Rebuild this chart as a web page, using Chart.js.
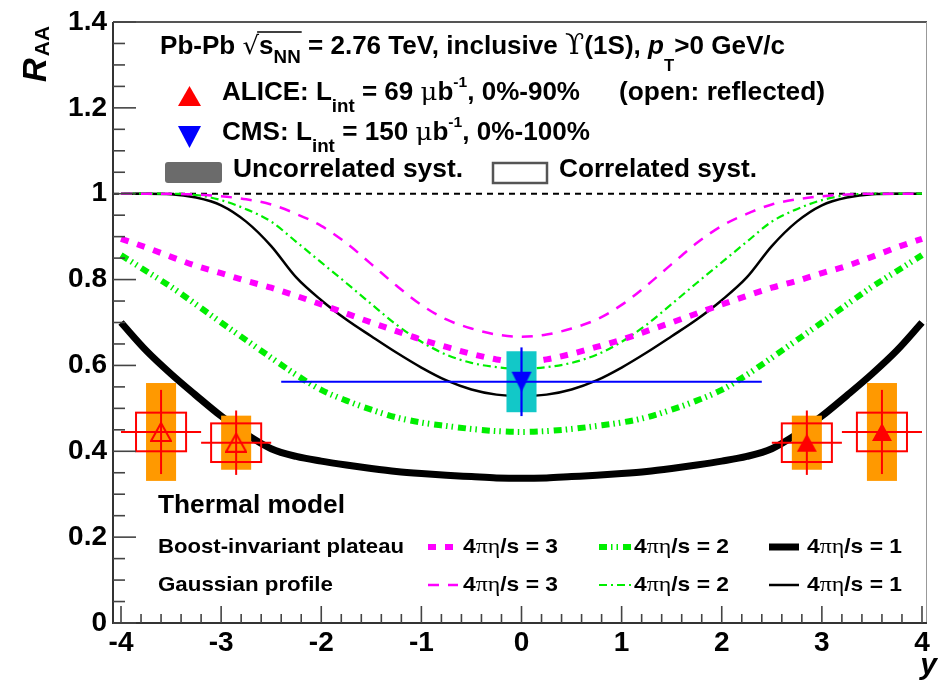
<!DOCTYPE html>
<html>
<head>
<meta charset="utf-8">
<title>Upsilon(1S) RAA vs rapidity</title>
<script src="https://cdn.jsdelivr.net/npm/chart.js"></script>
<style>
  html, body { margin: 0; padding: 0; background: #fff; }
  canvas { display: block; }
</style>
</head>
<body>
<canvas id="raaChart" width="938" height="683"></canvas>
<script>
// rapidity grid of the thermal model curves
var rapidity = [-4, -3.75, -3.5, -3.25, -3, -2.75, -2.5, -2.25, -2, -1.75, -1.5, -1.25, -1, -0.75, -0.5, -0.25, 0,
                0.25, 0.5, 0.75, 1, 1.25, 1.5, 1.75, 2, 2.25, 2.5, 2.75, 3, 3.25, 3.5, 3.75, 4];

// boost-invariant plateau
var plateauEta3 = [0.895, 0.875, 0.853, 0.832, 0.815, 0.797, 0.781, 0.762, 0.742, 0.721, 0.700, 0.680, 0.660, 0.643, 0.627, 0.614, 0.607,
                   0.614, 0.627, 0.643, 0.660, 0.680, 0.700, 0.721, 0.742, 0.762, 0.781, 0.797, 0.815, 0.832, 0.853, 0.875, 0.895];
var plateauEta2 = [0.857, 0.820, 0.783, 0.742, 0.700, 0.659, 0.618, 0.578, 0.543, 0.518, 0.497, 0.479, 0.467, 0.459, 0.452, 0.447, 0.445,
                   0.447, 0.452, 0.459, 0.467, 0.479, 0.497, 0.518, 0.543, 0.578, 0.618, 0.659, 0.700, 0.742, 0.783, 0.820, 0.857];
var plateauEta1 = [0.700, 0.635, 0.580, 0.530, 0.482, 0.440, 0.406, 0.388, 0.377, 0.368, 0.360, 0.353, 0.348, 0.344, 0.341, 0.338, 0.337,
                   0.338, 0.341, 0.344, 0.348, 0.353, 0.360, 0.368, 0.377, 0.388, 0.406, 0.440, 0.482, 0.530, 0.580, 0.635, 0.700];

// gaussian profile
var gaussEta3 = [1.000, 1.000, 1.000, 0.998, 0.994, 0.987, 0.975, 0.953, 0.925, 0.885, 0.836, 0.786, 0.741, 0.707, 0.686, 0.672, 0.667,
                 0.672, 0.686, 0.707, 0.741, 0.786, 0.836, 0.885, 0.925, 0.953, 0.975, 0.987, 0.994, 0.998, 1.000, 1.000, 1.000];
var gaussEta2 = [1.000, 1.000, 1.000, 0.997, 0.985, 0.964, 0.935, 0.888, 0.840, 0.792, 0.743, 0.695, 0.655, 0.625, 0.606, 0.596, 0.592,
                 0.596, 0.606, 0.625, 0.655, 0.695, 0.743, 0.792, 0.840, 0.888, 0.935, 0.964, 0.985, 0.997, 1.000, 1.000, 1.000];
var gaussEta1 = [1.000, 1.000, 0.999, 0.991, 0.973, 0.935, 0.878, 0.805, 0.752, 0.707, 0.668, 0.630, 0.595, 0.565, 0.544, 0.532, 0.529,
                 0.532, 0.544, 0.565, 0.595, 0.630, 0.668, 0.707, 0.752, 0.805, 0.878, 0.935, 0.973, 0.991, 0.999, 1.000, 1.000];

// ALICE (measured at forward y, drawn open when reflected)
var aliceY = [2.85, 3.6];
var aliceRaa = [0.42, 0.445];
var aliceBinLo = [2.5, 3.2];
var aliceBinHi = [3.2, 4.0];
var aliceStat = [0.075, 0.098];
var aliceUncorr = [0.063, 0.114];
var aliceCorr = [0.045, 0.045];

// CMS
var cmsY = [0];
var cmsRaa = [0.562];
var cmsBinHalf = [2.4];
var cmsStat = [0.08];
var cmsUncorr = [0.071];

// unity reference line
var unityY = [-4.08, 4.05];
var unityRaa = [1, 1];

var xTicks = [-4, -3, -2, -1, 0, 1, 2, 3, 4];
var yTicks = [0, 0.2, 0.4, 0.6, 0.8, 1, 1.2, 1.4];

var FONT = '"Liberation Sans", Arial, Helvetica, sans-serif';
var BOX_UNCORR = 0.15, BOX_CORR = 0.25;

function pts(xs, ys) {
    return xs.map(function (x, i) { return {x: x, y: ys[i]}; });
}

function triangle(w, h, fill, stroke, down) {
    var c = document.createElement('canvas');
    c.width = w + 2; c.height = h + 2;
    var g = c.getContext('2d');
    g.beginPath();
    if (down) {
        g.moveTo(1, 1); g.lineTo(w + 1, 1); g.lineTo(w / 2 + 1, h + 1);
    } else {
        g.moveTo(1, h + 1); g.lineTo(w + 1, h + 1); g.lineTo(w / 2 + 1, 1);
    }
    g.closePath();
    if (fill) { g.fillStyle = fill; g.fill(); }
    if (stroke) { g.strokeStyle = stroke; g.lineWidth = 2; g.lineJoin = 'miter'; g.stroke(); }
    return c;
}

var redUp = triangle(20, 18, '#ff0000');
var redOpen = triangle(20, 18, null, '#ff0000');
var blueDown = triangle(20, 20, '#0000ff', null, true);
var redUpLegend = triangle(23, 20, '#ff0000');
var blueDownLegend = triangle(23, 22, '#0000ff', null, true);

var curveStyles = [
    {label: 'plateau 3', data: plateauEta3, color: '#ff00ff', width: 6, dash: [8, 9]},
    {label: 'plateau 2', data: plateauEta2, color: '#00ee00', width: 6, dash: [8, 4, 1.5, 4, 1.5, 5]},
    {label: 'plateau 1', data: plateauEta1, color: '#000000', width: 7, dash: []},
    {label: 'gauss 3', data: gaussEta3, color: '#ff00ff', width: 2.5, dash: [11, 9]},
    {label: 'gauss 2', data: gaussEta2, color: '#00ee00', width: 2.2, dash: [8, 4, 2, 4]},
    {label: 'gauss 1', data: gaussEta1, color: '#000000', width: 2.5, dash: []}
];

var datasets = [];
datasets.push({label: 'CMS', data: pts(cmsY, cmsRaa), pointStyle: blueDown, pointRadius: 10, order: 1, isMarker: true});
datasets.push({label: 'ALICE', data: pts(aliceY, aliceRaa), pointStyle: redUp, pointRadius: 10, order: 1, isMarker: true});
datasets.push({label: 'ALICE reflected', data: pts(aliceY.map(function (v) { return -v; }), aliceRaa),
               pointStyle: redOpen, pointRadius: 10, order: 1, isMarker: true});
curveStyles.forEach(function (s) {
    datasets.push({
        label: s.label, data: pts(rapidity, s.data), showLine: true, pointRadius: 0,
        borderColor: s.color, borderWidth: s.width, borderDash: s.dash,
        cubicInterpolationMode: 'monotone', order: 5
    });
});
datasets.push({label: 'unity', data: pts(unityY, unityRaa), showLine: true, pointRadius: 0,
               borderColor: '#000', borderWidth: 2, borderDash: [6, 5], order: 6});

function drawErrors(chart) {
    var ctx = chart.ctx, X = chart.scales.x, Y = chart.scales.y;
    function px(v) { return X.getPixelForValue(v); }
    function py(v) { return Y.getPixelForValue(v); }
    function seg(x1, y1, x2, y2) { ctx.beginPath(); ctx.moveTo(x1, y1); ctx.lineTo(x2, y2); ctx.stroke(); }
    ctx.save();
    ctx.setLineDash([]);
    [1, -1].forEach(function (sign) {
        aliceY.forEach(function (y0, i) {
            var xc = sign * y0, r = aliceRaa[i];
            ctx.fillStyle = '#ff9900';
            ctx.fillRect(px(xc - BOX_UNCORR), py(r + aliceUncorr[i]),
                         px(xc + BOX_UNCORR) - px(xc - BOX_UNCORR), py(r - aliceUncorr[i]) - py(r + aliceUncorr[i]));
            ctx.strokeStyle = '#ff0000';
            ctx.lineWidth = 2;
            ctx.strokeRect(px(xc - BOX_CORR), py(r + aliceCorr[i]),
                           px(xc + BOX_CORR) - px(xc - BOX_CORR), py(r - aliceCorr[i]) - py(r + aliceCorr[i]));
            var lo = sign > 0 ? aliceBinLo[i] : -aliceBinHi[i];
            var hi = sign > 0 ? aliceBinHi[i] : -aliceBinLo[i];
            seg(px(lo), py(r), px(hi), py(r));
            seg(px(xc), py(r - aliceStat[i]), px(xc), py(r + aliceStat[i]));
        });
    });
    cmsY.forEach(function (xc, i) {
        var r = cmsRaa[i];
        ctx.fillStyle = '#12c8c8';
        ctx.fillRect(px(xc - BOX_UNCORR), py(r + cmsUncorr[i]),
                     px(xc + BOX_UNCORR) - px(xc - BOX_UNCORR), py(r - cmsUncorr[i]) - py(r + cmsUncorr[i]));
        ctx.strokeStyle = '#0000ff';
        ctx.lineWidth = 2.2;
        seg(px(xc - cmsBinHalf[i]), py(r), px(xc + cmsBinHalf[i]), py(r));
        seg(px(xc), py(r - cmsStat[i]), px(xc), py(r + cmsStat[i]));
    });
    ctx.restore();
}

function drawRich(ctx, x, y, runs, targetW) {
    var w = 0;
    runs.forEach(function (r) { ctx.font = r[1]; w += ctx.measureText(r[0]).width; });
    var k = targetW ? targetW / w : 1;
    var marks = [], cx = 0;
    ctx.save();
    ctx.translate(x, y);
    ctx.scale(k, 1);
    ctx.textAlign = 'left';
    ctx.textBaseline = 'alphabetic';
    ctx.fillStyle = '#000';
    runs.forEach(function (r) {
        ctx.font = r[1];
        ctx.fillText(r[0], cx, r[2] || 0);
        var rw = ctx.measureText(r[0]).width;
        marks.push([x + cx * k, x + (cx + rw) * k]);
        cx += rw;
    });
    ctx.restore();
    return marks;
}

function sample(ctx, x1, x2, y, s) {
    ctx.save();
    ctx.strokeStyle = s.color;
    ctx.lineWidth = s.width;
    ctx.setLineDash(s.dash);
    ctx.beginPath(); ctx.moveTo(x1, y); ctx.lineTo(x2, y); ctx.stroke();
    ctx.restore();
}

var rootStyle = {
    id: 'rootStyle',
    beforeDatasetsDraw: function (chart) { chart.$errorsDone = false; },
    beforeDatasetDraw: function (chart, args) {
        if (chart.data.datasets[args.index].isMarker && !chart.$errorsDone) {
            drawErrors(chart);
            chart.$errorsDone = true;
        }
    },
    afterDraw: function (chart) {
        var ctx = chart.ctx, a = chart.chartArea, X = chart.scales.x, Y = chart.scales.y;
        ctx.save();
        ctx.setLineDash([]);
        // frame
        ctx.strokeStyle = '#555'; ctx.lineWidth = 2;
        ctx.beginPath(); ctx.moveTo(a.left, a.top); ctx.lineTo(a.right, a.top); ctx.stroke();
        ctx.strokeStyle = '#999'; ctx.lineWidth = 1;
        ctx.beginPath(); ctx.moveTo(a.right - 0.5, a.top); ctx.lineTo(a.right - 0.5, a.bottom); ctx.stroke();
        ctx.strokeStyle = '#333'; ctx.lineWidth = 2;
        ctx.beginPath(); ctx.moveTo(a.left, a.top); ctx.lineTo(a.left, a.bottom); ctx.lineTo(a.right, a.bottom); ctx.stroke();
        // inward ticks
        ctx.strokeStyle = '#444'; ctx.lineWidth = 1.6;
        var i, p;
        for (i = -20; i <= 20; i++) {
            p = X.getPixelForValue(i / 5);
            ctx.beginPath(); ctx.moveTo(p, a.bottom); ctx.lineTo(p, a.bottom - (i % 5 === 0 ? 17 : 9)); ctx.stroke();
        }
        for (i = 0; i <= 28; i++) {
            p = Y.getPixelForValue(i * 0.05);
            ctx.beginPath(); ctx.moveTo(a.left, p); ctx.lineTo(a.left + (i % 4 === 0 ? 23 : 12), p); ctx.stroke();
        }
        // axis titles
        ctx.fillStyle = '#000';
        ctx.save();
        ctx.translate(46, 82);
        ctx.rotate(-Math.PI / 2);
        ctx.font = 'bold italic 33px ' + FONT;
        ctx.fillText('R', 0, 0);
        var rw = ctx.measureText('R').width;
        ctx.font = 'bold 21px ' + FONT;
        ctx.fillText('AA', rw + 2, 3);
        ctx.restore();
        ctx.font = 'bold italic 30px ' + FONT;
        ctx.textAlign = 'right';
        ctx.fillText('y', 937, 674);
        ctx.textAlign = 'left';

        // top legend
        var B = 'bold 25px ' + FONT, S = 'bold 18px ' + FONT, SUP = 'bold 15px ' + FONT;
        var m = drawRich(ctx, 160, 54, [
            ['Pb-Pb ', B], ['\u221A', '25px "DejaVu Sans", sans-serif'], ['s', B], ['NN', S, 9],
            [' = 2.76 TeV, inclusive ', B], ['\u03D2', '27px "DejaVu Serif", serif'], ['(1S), ', B],
            ['p', 'bold italic 25px ' + FONT], ['T', 'bold 16px ' + FONT, 17], ['>0 GeV/c', B]
        ], 625);
        ctx.strokeStyle = '#000'; ctx.lineWidth = 1.6;
        ctx.beginPath(); ctx.moveTo(m[1][1] - 2, 32); ctx.lineTo(m[3][1] + 1, 32); ctx.stroke();

        ctx.drawImage(redUpLegend, 177, 85);
        drawRich(ctx, 222, 100, [
            ['ALICE: L', B], ['int', S, 12], [' = 69 ', B], ['\u03BC', '25px "DejaVu Serif", serif'], ['b', B],
            ['-1', SUP, -13], [', 0%-90%', B]
        ], 358);
        drawRich(ctx, 619, 100, [['(open: reflected)', B]], 206);
        ctx.drawImage(blueDownLegend, 177, 125);
        drawRich(ctx, 222, 140, [
            ['CMS: L', B], ['int', S, 12], [' = 150 ', B], ['\u03BC', '25px "DejaVu Serif", serif'], ['b', B],
            ['-1', SUP, -13], [', 0%-100%', B]
        ], 368);
        ctx.fillStyle = '#6b6b6b';
        ctx.beginPath();
        if (ctx.roundRect) { ctx.roundRect(165, 162, 57, 21, 3); } else { ctx.rect(165, 162, 57, 21); }
        ctx.fill();
        drawRich(ctx, 233, 177, [['Uncorrelated syst.', B]], 230);
        ctx.strokeStyle = '#555'; ctx.lineWidth = 2.5;
        ctx.strokeRect(493, 163, 54, 20);
        drawRich(ctx, 559, 177, [['Correlated syst.', B]], 198);

        // bottom legend
        drawRich(ctx, 158, 513, [['Thermal model', 'bold 25px ' + FONT]], 187);
        var L = 'bold 21px ' + FONT, G = '22px "Liberation Serif", "DejaVu Serif", serif';
        drawRich(ctx, 158, 553, [['Boost-invariant plateau', L]], 246);
        drawRich(ctx, 158, 591, [['Gaussian profile', L]], 175);
        var cols = [[428, 458, 463, '3'], [599, 631, 634, '2'], [769, 799, 807, '1']];
        cols.forEach(function (c, j) {
            sample(ctx, c[0], c[1], 547, curveStyles[j]);
            sample(ctx, c[0], c[1], 585, curveStyles[j + 3]);
            [553, 591].forEach(function (yb) {
                drawRich(ctx, c[2], yb, [['4', L], ['\u03C0\u03B7', G], ['/s = ' + c[3], L]], 95);
            });
        });
        ctx.restore();
    }
};

var ctx = document.getElementById('raaChart').getContext('2d');
var raaChart = new Chart(ctx, {
    type: 'scatter',
    data: {datasets: datasets},
    options: {
        responsive: false,
        animation: false,
        devicePixelRatio: 1,
        layout: {padding: {top: 22, right: 1, left: 0, bottom: 0}},
        plugins: {legend: {display: false}, title: {display: false}, tooltip: {enabled: false}},
        scales: {
            x: {
                type: 'linear', min: -4.08, max: 4.05,
                grid: {display: false, drawTicks: false}, border: {display: false},
                afterBuildTicks: function (s) { s.ticks = xTicks.map(function (v) { return {value: v}; }); },
                afterFit: function (s) { s.height = 60; s.paddingLeft = 0; s.paddingRight = 0; },
                ticks: {
                    color: '#000', padding: 3, maxRotation: 0, autoSkip: false,
                    font: {family: FONT, size: 28, weight: 'bold'},
                    callback: function (v) { return String(v); }
                }
            },
            y: {
                type: 'linear', min: 0, max: 1.4,
                grid: {display: false, drawTicks: false}, border: {display: false},
                afterBuildTicks: function (s) { s.ticks = yTicks.map(function (v) { return {value: v}; }); },
                afterFit: function (s) { s.width = 113; s.paddingTop = 0; s.paddingBottom = 0; },
                ticks: {
                    color: '#000', padding: 6, autoSkip: false,
                    font: {family: FONT, size: 28, weight: 'bold'},
                    callback: function (v) { return String(Math.round(v * 10) / 10); }
                }
            }
        }
    },
    plugins: [rootStyle]
});
</script>
</body>
</html>
